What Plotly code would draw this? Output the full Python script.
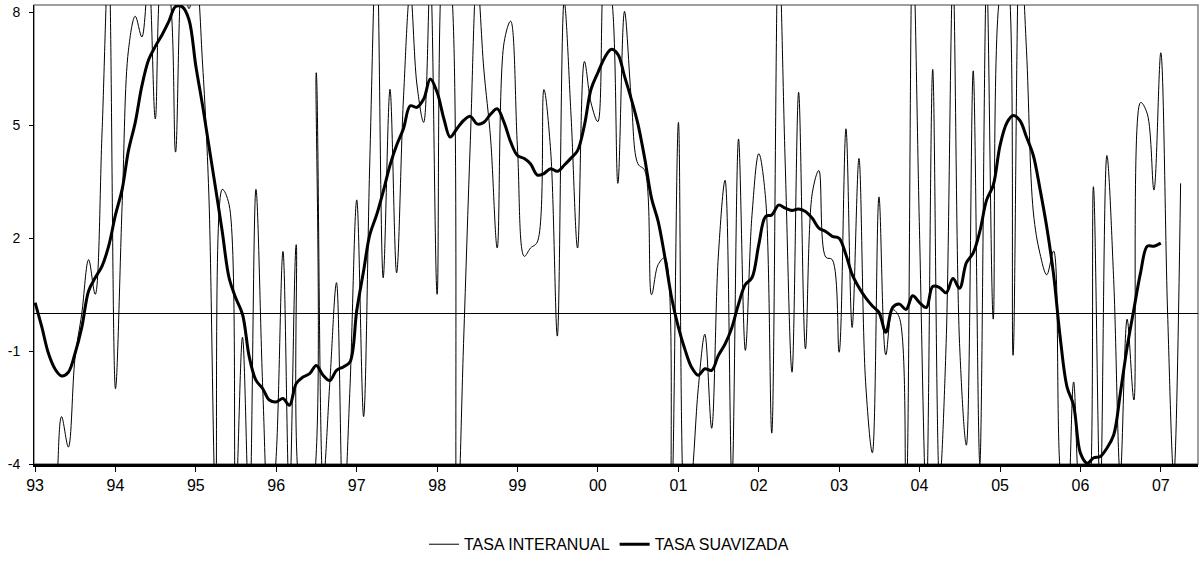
import pandas as pd
import plotly.graph_objs as go

# monthly values, Jan 1993 onward
tasa_interanual = [
    -6.5, -7.0, -6.5, -5.5, -2.74, -3.55, -1.2, 0.0, 1.43, 0.51,
    4.8, 9.5, -2.0, 3.0, 7.0, 7.9, 7.35, 9.0, 5.17, 9.0,
    8.6, 4.29, 9.0, 8.1, 9.0, 6.6, 3.2, -5.0, 3.3, 2.9,
    -5.0, -0.63, -5.5, 3.3, -2.0, -6.0, -3.8, 1.65, -5.0, 1.83,
    -5.0, -5.0, 6.4, -4.5, -1.8, 0.82, -5.5, -2.0, 3.02, -2.74,
    4.0, 10.0, 0.95, 5.96, 1.08, 5.7, 8.6, 6.1, 5.08, 9.0,
    0.51, 9.5, 9.0, -6.0, -0.8, 4.6, 9.0, 6.5, 4.64, 1.74,
    7.2, 7.77, 4.4, 1.52, 1.74, 1.9, 5.95, 4.3, -0.6, 8.3,
    5.3, 1.74, 6.7, 5.6, 5.1, 9.0, 8.5, 3.46, 8.03, 5.7,
    3.98, 3.8, 0.5, 1.3, 1.48, -5.0, 5.08, -5.5, -4.5, -2.0,
    -0.55, -3.05, 1.5, 3.54, -4.5, 4.64, -0.98, 2.6, 4.25, 3.06,
    -3.18, 10.0, 4.0, -1.56, 5.88, -0.94, 3.2, 3.8, 1.5, 1.43,
    -1.03, 4.91, -0.37, 4.12, -1.8, -3.7, 3.1, -1.1, 0.1, -0.1,
    -5.0, 10.0, 2.2, -5.0, 6.49, -4.5, -0.8, 9.0, -0.8, -3.5,
    6.45, -4.0, 9.0, -0.15, 8.5, 9.0, -1.11, 10.0, 7.0, 2.7,
    1.6, 1.03, 1.66, -4.2, -5.5, -1.82, -5.0, -5.5, 3.37, -5.0,
    4.2, 0.9, -4.3, -0.15, -2.3, 5.61, 5.3, 3.28, 6.93, 0.0,
    -4.3, 3.46,
]

tasa_suavizada = [
    0.29, -0.37, -1.03, -1.47, -1.66, -1.56, -1.07, -0.37, 0.6, 0.95,
    1.26, 1.79, 2.62, 3.32, 4.33, 5.08, 6.05, 6.75, 7.1, 7.41,
    7.77, 8.16, 8.15, 7.81, 6.58, 5.52, 4.47, 3.32, 2.18, 0.95,
    0.42, -0.02, -1.16, -1.77, -2.0, -2.3, -2.35, -2.26, -2.44, -1.86,
    -1.69, -1.6, -1.38, -1.64, -1.78, -1.51, -1.42, -1.29, 0.08, 1.13,
    2.09, 2.62, 3.24, 3.94, 4.47, 4.91, 5.52, 5.48, 5.7, 6.23,
    5.88, 5.17, 4.69, 4.91, 5.13, 5.24, 5.04, 5.08, 5.3, 5.44,
    5.08, 4.56, 4.2, 4.12, 3.98, 3.68, 3.72, 3.85, 3.78, 3.94,
    4.13, 4.33, 5.0, 5.96, 6.4, 6.8, 7.02, 6.89, 6.31, 5.7,
    5.04, 4.12, 3.06, 2.45, 1.48, 0.42, -0.37, -0.98, -1.42, -1.64,
    -1.47, -1.51, -1.12, -0.81, -0.37, 0.25, 0.77, 0.95, 1.83, 2.58,
    2.62, 2.88, 2.8, 2.74, 2.78, 2.71, 2.53, 2.27, 2.18, 2.05,
    2.0, 1.56, 1.04, 0.69, 0.42, 0.2, 0.03, -0.5, 0.16, 0.25,
    0.11, 0.47, 0.29, 0.16, 0.72, 0.69, 0.55, 0.93, 0.67, 1.35,
    1.61, 2.18, 3.02, 3.41, 4.47, 5.07, 5.26, 5.13, 4.69, 4.2,
    3.32, 2.3, 1.04, -0.63, -1.95, -2.44, -3.71, -3.98, -3.84, -3.8,
    -3.58, -3.23, -2.13, -0.9, 0.12, 1.08, 1.79, 1.79, 1.87,
]

y_ticks = [-4, -1, 2, 5, 8]

fechas = pd.date_range('1993-01-01', periods=len(tasa_interanual), freq='MS')

FONT = 'Liberation Sans, Arial, sans-serif'

fig = go.Figure()

fig.add_trace(
    go.Scatter(
        x=fechas,
        y=tasa_interanual,
        name='TASA INTERANUAL',
        mode='lines',
        line=dict(color='black', width=1, shape='spline', smoothing=1.0),
    )
)

fig.add_trace(
    go.Scatter(
        x=fechas[:len(tasa_suavizada)],
        y=tasa_suavizada,
        name='TASA SUAVIZADA',
        mode='lines',
        line=dict(color='black', width=3, shape='spline', smoothing=1.0),
    )
)

# grey frame round the plot area, as in the original sheet
fig.add_shape(
    type='rect', xref='paper', yref='paper', x0=0, y0=0, x1=1, y1=1,
    line=dict(color='#808080', width=1.5), layer='below'
)

fig.update_layout(
    width=1200,
    height=563,
    margin=dict(l=34, r=2, t=5, b=96),
    paper_bgcolor='white',
    plot_bgcolor='white',
    font=dict(family=FONT, color='black', size=14),
    showlegend=True,
    legend=dict(
        orientation='h',
        x=0.494, xanchor='center',
        y=-0.175, yanchor='middle',
        font=dict(family=FONT, size=16, color='black'),
        bgcolor='rgba(0,0,0,0)',
    ),
)

fig.update_xaxes(
    type='date',
    range=['1992-12-27', '2007-06-19'],
    dtick='M12',
    tick0='1993-01-01',
    tickformat='%y',
    ticks='outside',
    ticklen=5,
    tickcolor='black',
    showline=True,
    linecolor='black',
    linewidth=2.5,
    showgrid=False,
    zeroline=False,
    automargin=False,
    tickfont=dict(size=16),
)

fig.update_yaxes(
    range=[-4, 8.2],
    tickvals=y_ticks,
    ticktext=[str(v) for v in y_ticks],
    ticks='outside',
    ticklen=4,
    tickcolor='black',
    showline=True,
    linecolor='black',
    linewidth=1,
    showgrid=False,
    zeroline=True,
    zerolinecolor='black',
    zerolinewidth=1,
    automargin=False,
    ticklabelstandoff=6,
    ticklabeloverflow='allow',
    tickfont=dict(size=14),
)

# drop the page's default body margin so the figure fills the window exactly
fig.write_html(
    "out.html",
    config={'displayModeBar': False},
    post_script="document.body.style.margin = '0';",
)
